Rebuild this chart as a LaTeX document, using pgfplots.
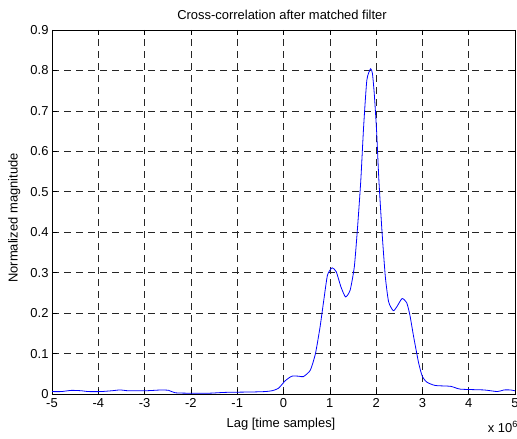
\documentclass[border=0pt]{standalone}
\usepackage{pgfplots}
\pgfplotsset{compat=1.18}
\usepackage{fontspec}
\setmainfont{Liberation Sans}
\newcommand{\ff}{\fontsize{13}{15.5}\selectfont}
\begin{document}
\begin{tikzpicture}
\path[use as bounding box] (-52bp,-45bp) rectangle (465bp,394bp);
\begin{axis}[
  at={(0,0)}, anchor=south west,
  scale only axis, width=463bp, height=364bp,
  xmin=-5, xmax=5, ymin=0, ymax=0.9,
  xtick={-5,-4,...,5}, ytick={0,0.1,...,0.9},
  yticklabels={0,0.1,0.2,0.3,0.4,0.5,0.6,0.7,0.8,0.9},
  scaled ticks=false,
  /pgf/number format/assume math mode=true,
  tick label style={font=\ff},
  xticklabel style={anchor=base, yshift=-13bp},
  tick align=inside, tick pos=both,
  major tick length=5bp,
  tick style={black, line width=0.6bp},
  axis line style={black, line width=0.8bp},
  grid=major,
  major grid style={black!85, line width=0.6bp, dash pattern=on 7bp off 5bp},
  clip=true,
]
\addplot[color={rgb,255:red,0;green,0;blue,255}, line width=0.8bp, smooth, tension=0.35] coordinates {
(-5.00,0.006) (-4.80,0.006) (-4.58,0.009) (-4.36,0.008) (-4.22,0.006)
(-3.95,0.006) (-3.71,0.008) (-3.53,0.010) (-3.35,0.008) (-2.99,0.008)
(-2.80,0.009) (-2.63,0.010) (-2.48,0.009) (-2.34,0.003) (-2.05,0.002)
(-1.60,0.002) (-1.26,0.004) (-0.68,0.005) (-0.40,0.006) (-0.25,0.008)
(-0.11,0.014) (0.04,0.033) (0.18,0.044) (0.33,0.044) (0.43,0.043)
(0.58,0.059) (0.69,0.100) (0.79,0.166) (0.87,0.232) (0.95,0.294)
(1.05,0.312) (1.14,0.302) (1.24,0.265) (1.34,0.240) (1.44,0.257)
(1.53,0.315) (1.60,0.413) (1.67,0.529) (1.73,0.660) (1.80,0.776)
(1.88,0.804) (1.92,0.793) (1.96,0.743) (2.01,0.652) (2.06,0.529)
(2.13,0.397) (2.20,0.289) (2.27,0.228) (2.37,0.206) (2.45,0.216)
(2.56,0.236) (2.66,0.226) (2.73,0.195) (2.81,0.142) (2.92,0.076)
(3.00,0.043) (3.10,0.029) (3.28,0.021) (3.61,0.019) (3.82,0.012)
(4.33,0.010) (4.62,0.006) (4.76,0.010) (4.90,0.010) (5.00,0.008)
};
\end{axis}
\node[anchor=base, font=\ff] at (230bp,374.5bp) {Cross-correlation after matched filter};
\node[anchor=base, font=\ff] at (229bp,-33.5bp) {Lag [time samples]};
\node[anchor=base, rotate=90, font=\ff] at (-34.5bp,176bp) {Normalized magnitude};
\node[anchor=base east, font=\ff, inner sep=0pt] at (466bp,-38bp) {x 10\textsuperscript{6}};
\end{tikzpicture}
\end{document}
